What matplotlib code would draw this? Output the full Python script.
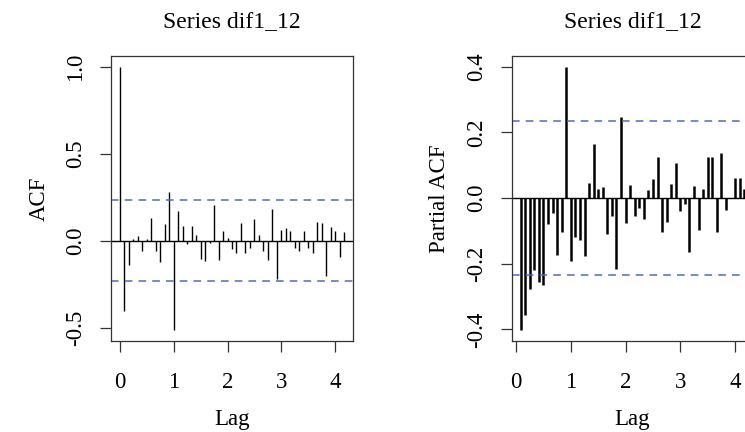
import matplotlib
matplotlib.use("Agg")
import matplotlib.pyplot as plt
import numpy as np

# ACF values, lags 0..50 (in years, monthly data)
acf_vals = [1.0, -0.40, -0.141, 0.011, 0.025, -0.059, 0.011, 0.133, -0.057, -0.124,
            0.095, 0.278, -0.514, 0.171, 0.088, -0.019, 0.088, 0.034, -0.105, -0.118,
            -0.010, 0.208, -0.110, 0.057, 0.017, -0.048, -0.072, 0.103, -0.072, -0.042,
            0.124, 0.034, -0.059, -0.110, 0.185, -0.219, 0.063, 0.072, 0.057, -0.042,
            -0.059, 0.057, -0.042, -0.072, 0.109, 0.103, -0.204, 0.080, 0.057, -0.090,
            0.050]

# PACF values, lags 1..50
pacf_vals = [-0.403, -0.355, -0.277, -0.218, -0.257, -0.265, -0.080, -0.047, -0.172, -0.104,
             0.400, -0.193, -0.120, -0.128, -0.177, 0.047, 0.165, 0.028, 0.032, -0.108,
             -0.056, -0.217, 0.245, -0.076, 0.039, -0.056, -0.031, -0.064, 0.023, 0.057,
             0.124, -0.104, -0.072, 0.044, 0.108, -0.039, -0.019, -0.164, 0.036, -0.096,
             0.028, 0.124, 0.124, -0.104, 0.136, -0.035, 0.0, 0.061, 0.061, 0.028]

acf_lags = np.arange(len(acf_vals)) / 12
pacf_lags = np.arange(1, len(pacf_vals) + 1) / 12
ci_acf = 0.232
ci_pacf = 0.234

plt.rcParams['font.family'] = ['Liberation Serif', 'DejaVu Serif']
W, H = 745, 432
fig = plt.figure(figsize=(W / 100, H / 100), dpi=100)
blue = '#4a6cc0'
fs = 16.5


def style_axes(ax, yticks, ylabel):
    for s in ax.spines.values():
        s.set_color('#333333')
        s.set_linewidth(0.9)
    ax.set_xticks([0, 1, 2, 3, 4])
    ax.set_xticklabels(['0', '1', '2', '3', '4'])
    ax.set_yticks(yticks)
    ax.set_yticklabels(['%.1f' % v for v in yticks], rotation=90, va='center')
    ax.tick_params(length=8, width=0.9, color='#333333', labelsize=fs)
    ax.tick_params(axis='x', pad=14)
    ax.tick_params(axis='y', pad=10)
    ax.set_xlabel('Lag', fontsize=fs, labelpad=12)
    ax.set_ylabel(ylabel, fontsize=fs, labelpad=11)
    ax.set_title('Series dif1_12', fontsize=17, pad=21)


# ACF panel
ax1 = fig.add_axes([110.7 / W, (H - 341) / H, 242.6 / W, 285 / H])
ax1.vlines(acf_lags, 0, acf_vals, color='black', lw=1.0)
ax1.axhline(0, color='black', lw=1.0)
ax1.axhline(ci_acf, color=blue, lw=1.1, ls=(0, (5, 4)))
ax1.axhline(-ci_acf, color=blue, lw=1.1, ls=(0, (5, 4)))
ax1.set_xlim(-0.1667, 4.3333)
ax1.set_ylim(-0.575, 1.061)
style_axes(ax1, [-0.5, 0.0, 0.5, 1.0], 'ACF')

# PACF panel
ax2 = fig.add_axes([511.7 / W, (H - 341) / H, 241.5 / W, 285 / H])
ax2.vlines(pacf_lags, 0, pacf_vals, color='black', lw=1.8)
ax2.axhline(0, color='black', lw=1.0)
ax2.axhline(ci_pacf, color=blue, lw=1.1, ls=(0, (5, 4)))
ax2.axhline(-ci_pacf, color=blue, lw=1.1, ls=(0, (5, 4)))
ax2.set_xlim(-0.08, 4.33)
ax2.set_ylim(-0.435, 0.432)
style_axes(ax2, [-0.4, -0.2, 0.0, 0.2, 0.4], 'Partial ACF')

fig.savefig('out.png', dpi=100)
